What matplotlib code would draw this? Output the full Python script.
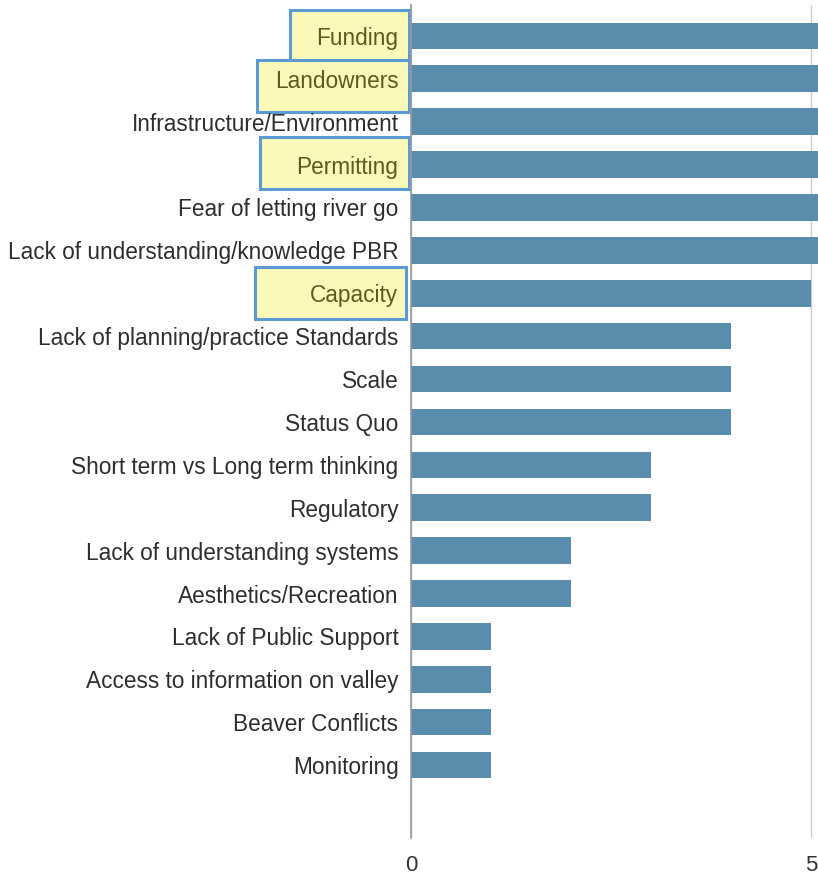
import matplotlib.pyplot as plt
import matplotlib.transforms as mtransforms
from matplotlib.patches import Rectangle

plt.rcParams['font.family'] = ['Liberation Sans', 'DejaVu Sans']

# Barriers and their counts (top bars run off the right edge of the crop)
barriers = [
    'Funding', 'Landowners', 'Infrastructure/Environment', 'Permitting',
    'Fear of letting river go', 'Lack of understanding/knowledge PBR',
    'Capacity', 'Lack of planning/practice Standards', 'Scale', 'Status Quo',
    'Short term vs Long term thinking', 'Regulatory',
    'Lack of understanding systems', 'Aesthetics/Recreation',
    'Lack of Public Support', 'Access to information on valley',
    'Beaver Conflicts', 'Monitoring',
]
counts = [7, 7, 6, 6, 6, 6, 5, 4, 4, 4, 3, 3, 2, 2, 1, 1, 1, 1]
highlighted = ['Funding', 'Landowners', 'Permitting', 'Capacity']
xticks = [0, 5]

fig = plt.figure(figsize=(8.18, 8.82), dpi=100)
ax = fig.add_axes([411 / 818, 1 - 838 / 882, 1 - 411 / 818, (838 - 5) / 882])

ypos = list(range(len(barriers)))
ax.barh(ypos, counts, height=0.62, color='#5a8cac', zorder=2)
ax.set_xlim(0, 5.09)
ax.set_ylim(18.7, -0.72)

ax.set_xticks(xticks)
ax.set_xticklabels([str(t) for t in xticks], fontsize=16, color='#333333')
ax.tick_params(axis='x', length=0, pad=12)
ax.grid(axis='x', color='#cccccc', linewidth=1, zorder=0)
ax.set_axisbelow(True)

ax.set_yticks(ypos)
ax.set_yticklabels(barriers, fontsize=16.3, color='#2e2e2e')
ax.tick_params(axis='y', length=0, pad=9)
for lab in ax.get_yticklabels():
    if lab.get_text() in highlighted:
        lab.set_color('#5c5a1e')

for s in ['top', 'right', 'bottom']:
    ax.spines[s].set_visible(False)
ax.spines['left'].set_color('#999999')
ax.spines['left'].set_linewidth(1.2)

# yellow highlight boxes behind the selected labels
trans = mtransforms.blended_transform_factory(fig.transFigure, ax.transData)
boxes = {'Funding': (290, 0.0), 'Landowners': (257, 0.17),
         'Permitting': (260, -0.03), 'Capacity': (255, 0.0)}
for name, (left_px, shift) in boxes.items():
    i = barriers.index(name)
    right_px = 409 if name != 'Capacity' else 406
    r = Rectangle((left_px / 818, i + shift - 0.61), (right_px - left_px) / 818, 1.22,
                  transform=trans, facecolor='#fbf9b9', edgecolor='#5b9bd5',
                  linewidth=2.2, clip_on=False, zorder=-1)
    fig.patches.append(r)

fig.savefig('out.png', dpi=100)
